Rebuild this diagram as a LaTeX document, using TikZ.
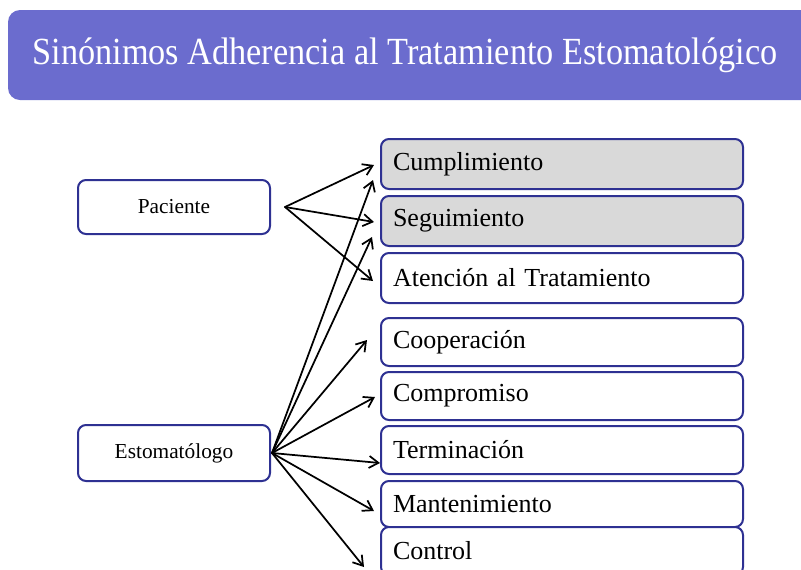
\documentclass[tikz,border=0pt]{standalone}
\usepackage{fontspec}
\setmainfont{Liberation Serif}
\usetikzlibrary{arrows.meta,calc}

\definecolor{headfill}{RGB}{107,108,206}
\definecolor{boxline}{RGB}{46,49,146}
\definecolor{boxgray}{RGB}{217,217,217}

\begin{document}
\begin{tikzpicture}[x=0.75pt, y=-0.75pt, line cap=round]
    \tikzset{
      who/.style={draw=boxline, line width=1.5pt, rounded corners=6pt, fill=white,
        minimum width=144pt, font=\fontsize{16}{19}\selectfont},
      syn/.style={draw=boxline, line width=1.5pt, rounded corners=6pt, fill=white,
        inner xsep=9pt, text width=253.5pt, align=left,
        font=\fontsize{19.5}{23}\selectfont},
      hit/.style={syn, fill=boxgray},
      link/.style={line width=1.3pt, -{Straight Barb[length=7pt,width=9pt]}}
    }
  % page size
  \useasboundingbox (0,0) rectangle (801,569);

  % header band
  \fill[headfill, rounded corners=9pt] (8,10) rectangle (830,100);
  \node[text=white, font=\fontsize{25.7}{30}\selectfont] (title) at (405,55)
    {\scalebox{1}[1.12]{Sinónimos Adherencia al Tratamiento Estomatológico}};

  % who adheres
  \node[who, minimum height=40.5pt] (pac) at (174,207) {Paciente};
  \node[who, minimum height=42pt]   (est) at (174,453) {Estomatólogo};

  % synonyms
  \node[hit, minimum height=37.5pt] (cump) at (562,164) {Cumplimiento};
  \node[hit, minimum height=37.5pt] (seg)  at (562,221) {Seguimiento};
  \node[syn, minimum height=37.5pt] (aten) at (562,278) {Atención al Tratamiento};
  \node[syn, minimum height=36pt]   (coop) at (562,342) {Cooperación};
  \node[syn, minimum height=36pt]   (comp) at (562,396) {Compromiso};
  \node[syn, minimum height=36pt]   (term) at (562,450) {Terminación};
  \node[syn, minimum height=34.5pt] (mant) at (562,504) {Mantenimiento};
  \node[syn, minimum height=36pt]   (ctrl) at (562,551) {Control};

  % arrow roots
  \coordinate (pacout) at ($(pac.east)+(14,0)$);
  \coordinate (estout) at ($(est.east)+(1,0)$);

  % Paciente
  \draw[link] (pacout) -- ($(cump.west)+(-6,1)$);
  \draw[link] (pacout) -- ($(seg.west)+(-6,1)$);
  \draw[link] (pacout) -- ($(aten.west)+(-7,3)$);

  % Estomatologo
  \draw[link] (estout) -- ($(cump.west)+(-7,16)$);
  \draw[link] (estout) -- ($(seg.west)+(-8,16)$);
  \draw[link] (estout) -- ($(coop.west)+(-13,-2)$);
  \draw[link] (estout) -- ($(comp.west)+(-5,1)$);
  \draw[link] (estout) -- ($(term.west)+(0,13)$);
  \draw[link] (estout) -- ($(mant.west)+(-6,7)$);
  \draw[link] (estout) -- ($(ctrl.west)+(-16,16)$);
\end{tikzpicture}
\end{document}
